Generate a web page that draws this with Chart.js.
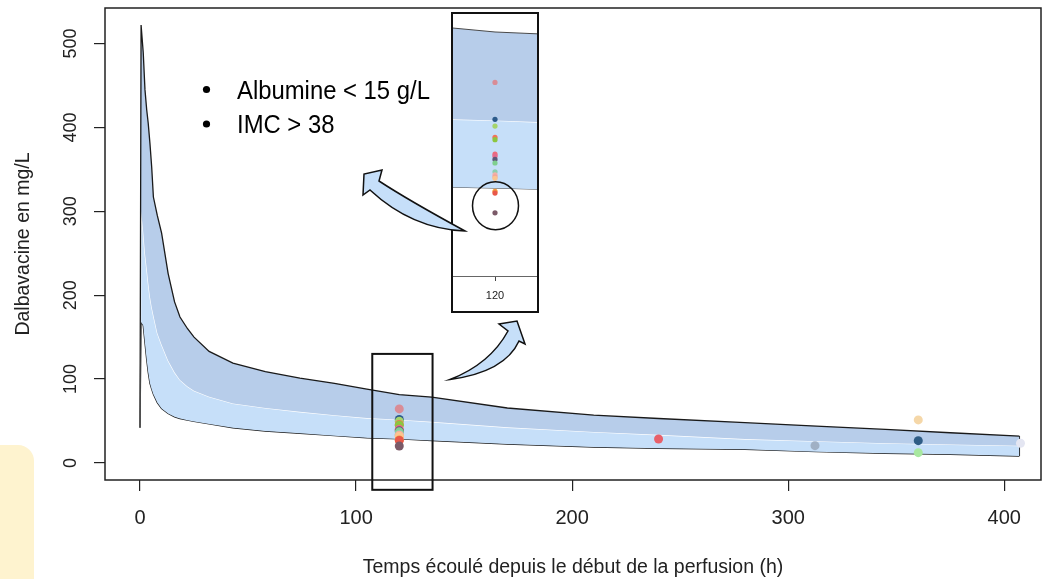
<!DOCTYPE html>
<html>
<head>
<meta charset="utf-8">
<script src="https://cdn.jsdelivr.net/npm/chart.js@4.4.0/dist/chart.umd.min.js"></script>
<style>
  html, body { margin: 0; padding: 0; background: #fff; }
  #wrap { position: relative; width: 1042px; height: 579px; overflow: hidden; }
  #note { position: absolute; left: 0; top: 445px; width: 34px; height: 150px; background: #fef3cf; border-top-right-radius: 16px; }
  #main { position: absolute; left: 0; top: 0; }
  #insetBox { position: absolute; left: 451px; top: 12px; width: 88px; height: 301px; box-sizing: border-box; border: 2px solid #111; background: #fff; }
  #over { position: absolute; left: 0; top: 0; pointer-events: none; }
</style>
</head>
<body>
<div id="wrap">
  <div id="note"></div>
  <canvas id="main" width="1042" height="579"></canvas>
  <div id="insetBox"><canvas id="inset" width="84" height="297"></canvas></div>
  <canvas id="over" width="1042" height="579"></canvas>
</div>
<script>
// Temps (h) et concentrations simulees (bornes de l'intervalle et mediane)
const times      = [0, 0.5, 1.5, 2.3, 3.1, 3.8, 4.6, 5.4, 6.2, 8, 10, 13, 16, 18.5, 22, 25, 32, 43, 58, 74, 90, 105, 120, 135, 170, 210, 240, 280, 313, 345, 375, 407];
const upperConc  = [42, 522, 489, 445, 421, 405, 381, 353, 317, 295, 274, 226, 192, 174, 160, 150, 133, 119, 109, 101, 95, 88, 81.5, 78.5, 65.5, 57, 53, 48, 44, 40, 36, 32];
const medianConc = [42, 300, 275, 250, 232, 215, 198, 186, 176, 155, 141, 122, 108, 99, 91, 86, 79, 71, 65.5, 61, 57, 53.5, 51.5, 49, 42.5, 37, 33.5, 28.5, 26, 23.5, 22, 20.6];
const lowerConc  = [42, 168, 164, 143, 123, 108, 95, 88, 82, 72, 65, 59, 55, 53, 51, 49.5, 46.5, 42, 38, 35.4, 32.5, 30, 28.6, 26.8, 22.5, 19, 17.5, 16.3, 13.5, 11.6, 10.4, 8.3];

// Concentrations observees
const obsTime = [120, 120, 120, 120, 120, 120, 120, 120, 120, 120, 120, 120, 120, 120, 120, 120, 240, 312.4, 360.2, 360.2, 360.2, 407.5];
const obsConc = [64.4, 51.9, 49.6, 45.8, 45.0, 40.1, 39.4, 38.3, 37.1, 34.1, 33.1, 32.4, 31.9, 27.5, 26.9, 20.2, 28.6, 20.6, 51.3, 26.6, 12.3, 23.5];
const obsColor = ['#d98c96', '#2c5a8a', '#a5d46a', '#f0745a', '#8cc63f', '#ee6a7a', '#e66a8c', '#5c5878', '#7fcf8f', '#8ecfb0',
                  '#f4b0a8', '#f2a69a', '#fbc590', '#f59a3a', '#e8584a', '#7b5a68', '#e8606a', '#a0b0c4', '#f5d7a8', '#2e5c85', '#a8e8a0', '#e4e6f2'];

const xTicks = [0, 100, 200, 300, 400];
const yTicks = [0, 100, 200, 300, 400, 500];
const zoomTime = [107.5, 135.4];
const zoomConc = [-32, 130];
const circleConc = 22.6;

const toPts = ys => times.map((t, i) => ({x: t, y: ys[i]}));
const obsPts = obsTime.map((t, i) => ({x: t, y: obsConc[i]}));
const last = times.length - 1;
const edgePts = [{x: times[last], y: upperConc[last]}, {x: times[last], y: lowerConc[last]}];

function makeSets(lineColor, lineW, r) {
  return [
    {data: obsPts, showLine: false, pointRadius: r, pointBackgroundColor: obsColor, pointBorderWidth: 0, order: 0},
    {data: toPts(upperConc), borderColor: lineColor, borderWidth: lineW, pointRadius: 0, fill: '+1', backgroundColor: '#b7cdea', order: 1},
    {data: toPts(medianConc), borderColor: '#ffffff', borderWidth: 1.2, pointRadius: 0, fill: '+1', backgroundColor: '#c6dff9', order: 1},
    {data: toPts(lowerConc), borderColor: lineColor, borderWidth: lineW, pointRadius: 0, fill: false, order: 1},
    {data: edgePts, borderColor: lineColor, borderWidth: lineW, pointRadius: 0, fill: false, order: 1}
  ];
}

const font = 'Liberation Sans';

// Cadre du graphe + rectangle de zoom
const boxPlugin = {
  id: 'box',
  afterDraw(chart) {
    const {ctx, chartArea: a, scales: {x, y}} = chart;
    ctx.save();
    ctx.strokeStyle = '#222';
    ctx.lineWidth = 1.5;
    ctx.strokeRect(a.left, a.top, a.right - a.left, a.bottom - a.top);
    ctx.strokeStyle = '#111';
    ctx.lineWidth = 2;
    const x0 = x.getPixelForValue(zoomTime[0]), x1 = x.getPixelForValue(zoomTime[1]);
    const y0 = y.getPixelForValue(zoomConc[1]), y1 = y.getPixelForValue(zoomConc[0]);
    ctx.strokeRect(x0, y0, x1 - x0, y1 - y0);
    ctx.restore();
  }
};

new Chart(document.getElementById('main'), {
  type: 'line',
  data: {datasets: makeSets('#1a1a1a', 1.3, 4.5)},
  options: {
    responsive: false,
    animation: false,
    events: [],
    layout: {autoPadding: false, padding: {top: 8, right: 1, left: 0, bottom: 0}},
    plugins: {legend: {display: false}, tooltip: {enabled: false}},
    scales: {
      x: {
        type: 'linear', min: -16.2, max: 417,
        afterBuildTicks: s => { s.ticks = xTicks.map(v => ({value: v})); },
        afterFit: s => { s.height = 99; s.paddingLeft = 0; s.paddingRight = 0; },
        grid: {drawOnChartArea: false, tickLength: 11, tickColor: '#222', lineWidth: 1.2},
        border: {display: false},
        ticks: {color: '#222', font: {family: font, size: 20}, padding: 15, maxRotation: 0, autoSkip: false},
        title: {display: true, text: 'Temps écoulé depuis le début de la perfusion (h)', color: '#222',
                font: {family: font, size: 19.5}, padding: {top: 0, bottom: 0}}
      },
      y: {
        type: 'linear', min: -20.3, max: 542.3,
        afterBuildTicks: s => { s.ticks = yTicks.map(v => ({value: v})); },
        afterFit: s => { s.width = 105; s.paddingTop = 0; s.paddingBottom = 0; },
        grid: {drawOnChartArea: false, tickLength: 11, tickColor: '#222', lineWidth: 1.2},
        border: {display: false},
        ticks: {color: '#222', font: {family: font, size: 18}, padding: 8, minRotation: 90, maxRotation: 90, crossAlign: 'center', autoSkip: false},
        title: {display: true, text: 'Dalbavacine en mg/L', color: '#222',
                font: {family: font, size: 19.5}, padding: {top: 12, bottom: 0}}
      }
    }
  },
  plugins: [boxPlugin]
});

// Encart : zoom autour de t = 120 h
const circlePlugin = {
  id: 'circle',
  afterDraw(chart) {
    const {ctx, scales: {x, y}} = chart;
    ctx.save();
    ctx.strokeStyle = '#111';
    ctx.lineWidth = 1.5;
    ctx.beginPath();
    ctx.ellipse(x.getPixelForValue(120) + 0.5, y.getPixelForValue(circleConc), 23, 24, 0, 0, Math.PI * 2);
    ctx.stroke();
    ctx.restore();
  }
};

new Chart(document.getElementById('inset'), {
  type: 'line',
  data: {datasets: makeSets('#4a4a4a', 1, 2.6)},
  options: {
    responsive: false,
    animation: false,
    events: [],
    layout: {autoPadding: false, padding: 0},
    plugins: {legend: {display: false}, tooltip: {enabled: false}},
    scales: {
      x: {
        type: 'linear', min: 116.9, max: 123.1,
        afterBuildTicks: s => { s.ticks = [{value: 120}]; },
        afterFit: s => { s.height = 35; s.paddingLeft = 0; s.paddingRight = 0; },
        grid: {drawOnChartArea: false, tickLength: 5, tickColor: '#444', lineWidth: 1},
        border: {display: true, color: '#666', width: 1},
        ticks: {color: '#222', font: {family: font, size: 11}, padding: 8, maxRotation: 0}
      },
      y: {type: 'linear', min: -1.2, max: 87.6, display: false}
    }
  },
  plugins: [circlePlugin]
});

// Fleches et texte
const o = document.getElementById('over').getContext('2d');
o.fillStyle = '#c6dff9';
o.strokeStyle = '#111';
o.lineWidth = 1.5;
o.lineJoin = 'miter';

o.beginPath();
o.moveTo(450, 379.5);
o.quadraticCurveTo(505, 372, 519, 341);
o.lineTo(525, 344);
o.lineTo(517, 321);
o.lineTo(499, 324);
o.lineTo(508, 331);
o.quadraticCurveTo(490, 364, 450, 379.5);
o.closePath();
o.fill();
o.stroke();

o.beginPath();
o.moveTo(465, 231);
o.quadraticCurveTo(408, 200, 379, 181);
o.lineTo(382, 170);
o.lineTo(364, 174);
o.lineTo(363, 195);
o.lineTo(370, 190);
o.quadraticCurveTo(412, 229, 465, 231);
o.closePath();
o.fill();
o.stroke();

o.fillStyle = '#000';
[[206.5, 89.5], [206.5, 124]].forEach(([bx, by]) => {
  o.beginPath();
  o.arc(bx, by, 3.6, 0, Math.PI * 2);
  o.fill();
});
o.font = '26.5px "Liberation Sans"';
o.textBaseline = 'alphabetic';
[['Albumine < 15 g/L', 99], ['IMC > 38', 133.3]].forEach(([txt, by]) => {
  o.save();
  o.translate(237, by);
  o.scale(0.9, 1);
  o.fillText(txt, 0, 0);
  o.restore();
});
</script>
</body>
</html>
